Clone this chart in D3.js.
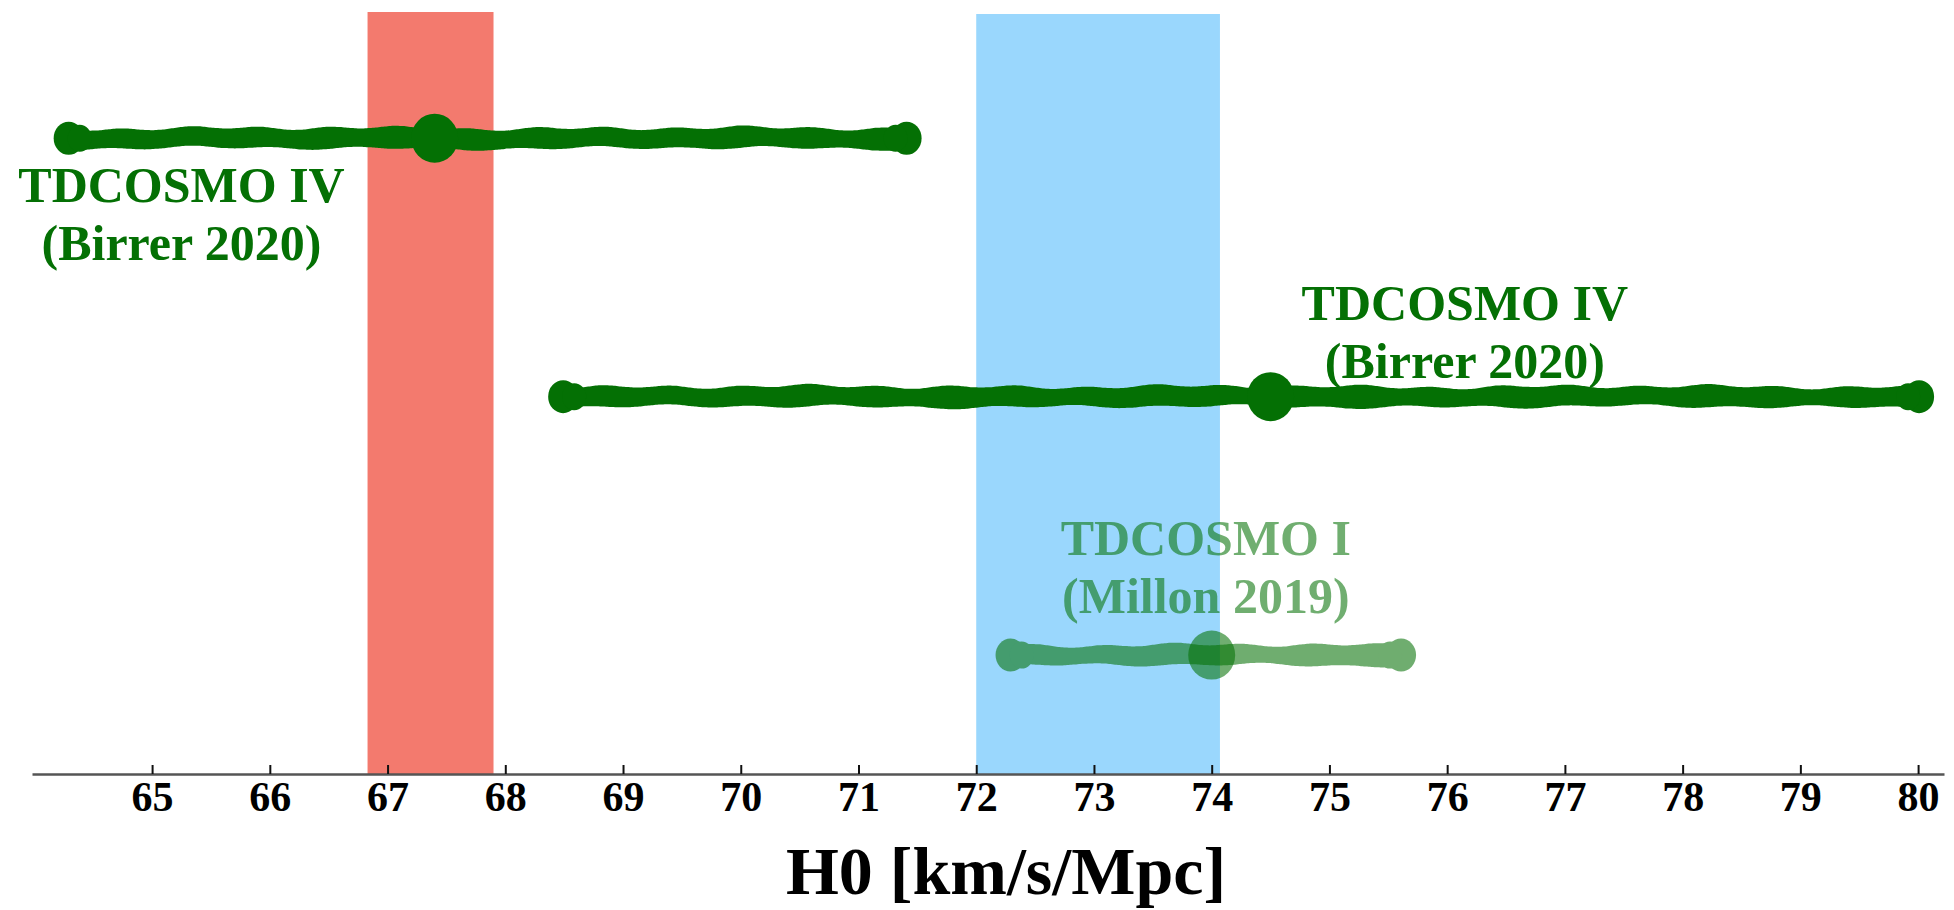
<!DOCTYPE html>
<html>
<head>
<meta charset="utf-8">
<script src="https://cdn.jsdelivr.net/npm/d3@7"></script>
<style>
  html, body { margin: 0; padding: 0; background: #ffffff; }
  svg { display: block; }
</style>
</head>
<body>
<div id="chart"></div>
<script>
// ---------- data ----------
const rows        = [3, 2, 1];
const h0Values    = [67.4, 74.5, 74.0];
const h0Lower     = [64.3, 68.5, 72.3];
const h0Upper     = [71.4, 80.0, 75.6];
const labelTitle  = ["TDCOSMO IV", "TDCOSMO IV", "TDCOSMO I"];
const labelRef    = ["(Birrer 2020)", "(Birrer 2020)", "(Millon 2019)"];
const labelX      = [65.25, 76.15, 73.95];
const labelY      = [2.755, 2.297, 1.3875];
const rowAlpha    = [1, 1, 0.57];
const bandNames   = ["Planck", "SH0ES"];
const bandLow     = [66.83, 72.0];
const bandHigh    = [67.9, 74.07];
const tickValues  = [65, 66, 67, 68, 69, 70, 71, 72, 73, 74, 75, 76, 77, 78, 79, 80];
const xTitle      = "H0 [km/s/Mpc]";

// ---------- layout ----------
const W = 1954, H = 910;
const FONT = "'Liberation Serif', 'Times New Roman', Times, serif";
const GREEN = "rgb(4,112,4)";
const bandColors = ["#F37A6E", "#9AD7FD"];
const bandTops = [12, 14];

const svg = d3.select("#chart").append("svg")
  .attr("width", W).attr("height", H)
  .attr("viewBox", `0 0 ${W} ${H}`);

const x = d3.scaleLinear().domain([63.98, 80.22]).range([32, 1944]);
const y = d3.scaleLinear().domain([0.54, 3.5]).range([774, 9]);

// bands
svg.append("g").selectAll("rect").data(bandNames).join("rect")
  .attr("x", (d, i) => x(bandLow[i]))
  .attr("width", (d, i) => x(bandHigh[i]) - x(bandLow[i]))
  .attr("y", (d, i) => bandTops[i])
  .attr("height", (d, i) => y(0.54) - bandTops[i])
  .attr("fill", (d, i) => bandColors[i]);

// hand-drawn style bar outline (stroke-style wobble only)
function wobblyBar(x0, x1, cy, hw, phase) {
  const top = [], bot = [];
  for (let px = x0; px <= x1; px += 3) {
    const t = px - x0;
    top.push([px, cy - hw + 1.3 * Math.sin(t / 11 + phase) + 1.0 * Math.sin(t / 29 + 2 * phase) + 0.6 * Math.sin(t / 67 + 1.1)]);
    bot.push([px, cy + hw + 1.2 * Math.sin(t / 13 + 1.7 + phase) + 0.9 * Math.sin(t / 31 + 0.5 + phase) + 0.6 * Math.sin(t / 71 + 2.3)]);
  }
  top.push([x1, cy - hw]); bot.push([x1, cy + hw]);
  return d3.line().curve(d3.curveBasis)(top.concat(bot.reverse())) + "Z";
}

const bars = svg.append("g");
rows.forEach((r, i) => {
  const cy = y(r);
  const g = bars.append("g").attr("opacity", rowAlpha[i]);
  g.append("path")
    .attr("d", wobblyBar(x(h0Lower[i]), x(h0Upper[i]), cy, 10, i * 1.3))
    .attr("fill", GREEN);
  g.append("ellipse").attr("cx", x(h0Lower[i]) - 1).attr("cy", cy).attr("rx", 15).attr("ry", 16.5).attr("fill", GREEN);
  g.append("ellipse").attr("cx", x(h0Lower[i]) + 10).attr("cy", cy).attr("rx", 12).attr("ry", 13.5).attr("fill", GREEN);
  g.append("ellipse").attr("cx", x(h0Upper[i]) + 1).attr("cy", cy).attr("rx", 15).attr("ry", 16.5).attr("fill", GREEN);
  g.append("ellipse").attr("cx", x(h0Upper[i]) - 10).attr("cy", cy).attr("rx", 12).attr("ry", 13.5).attr("fill", GREEN);
  bars.append("ellipse")
    .attr("cx", x(h0Values[i])).attr("cy", cy)
    .attr("rx", 23.5).attr("ry", 24.5)
    .attr("fill", GREEN).attr("opacity", rowAlpha[i]);
});

// labels
const labels = svg.append("g")
  .attr("font-family", FONT).attr("font-weight", "bold")
  .attr("font-size", 50).attr("text-anchor", "middle");
rows.forEach((r, i) => {
  const t = labels.append("text")
    .attr("x", x(labelX[i])).attr("y", y(labelY[i]))
    .attr("fill", GREEN).attr("fill-opacity", rowAlpha[i]);
  t.append("tspan").attr("x", x(labelX[i])).text(labelTitle[i]);
  t.append("tspan").attr("x", x(labelX[i])).attr("dy", 58.5).text(labelRef[i]);
});

// x axis
const axis = svg.append("g")
  .attr("transform", `translate(0,${y(0.54)})`)
  .call(d3.axisBottom(x).tickValues(tickValues).tickFormat(d3.format("d"))
    .tickSizeInner(-9).tickSizeOuter(0).tickPadding(7));
axis.select(".domain").attr("stroke", "#555").attr("stroke-width", 2.6);
axis.selectAll(".tick line").attr("stroke", "#111").attr("stroke-width", 2);
axis.selectAll(".tick text")
  .attr("font-family", FONT).attr("font-weight", "bold")
  .attr("font-size", 42).attr("fill", "#000");

svg.append("text")
  .attr("x", 1006).attr("y", 894)
  .attr("text-anchor", "middle")
  .attr("font-family", FONT).attr("font-weight", "bold")
  .attr("font-size", 68).attr("fill", "#000")
  .text(xTitle);
</script>
</body>
</html>
